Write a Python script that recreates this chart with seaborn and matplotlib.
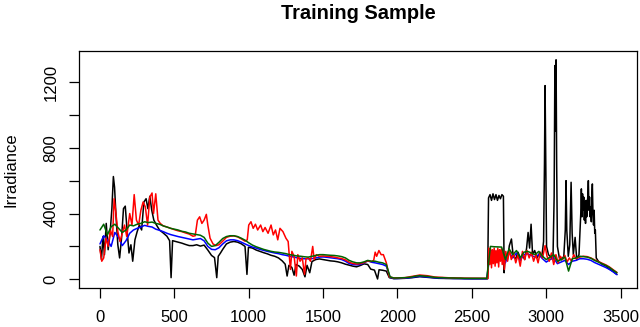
import numpy as np
import pandas as pd
import matplotlib
matplotlib.use("Agg")
import matplotlib.pyplot as plt
import seaborn as sns


# ===============================
# data
# ===============================

# black: measured irradiance
black_x = [0, 10, 20, 30, 42, 55, 68, 80, 90, 98, 108, 120, 132, 145, 158, 170, 182, 195, 208, 220,
           235, 250, 265, 280, 295, 310, 322, 335, 348, 362, 380, 400, 425, 450, 468, 478, 488, 500, 525, 550,
           575, 600, 625, 650, 675, 700, 725, 750, 770, 785, 795, 810, 825, 850, 875, 900, 925, 950, 975, 988,
           998, 1025, 1050, 1075, 1100, 1125, 1150, 1175, 1200, 1225, 1245, 1258, 1270, 1290, 1305, 1318, 1340, 1360, 1378, 1392,
           1410, 1425, 1450, 1475, 1500, 1525, 1550, 1575, 1600, 1625, 1650, 1675, 1700, 1725, 1750, 1775, 1800, 1820, 1845, 1866,
           1876, 1900, 1925, 1945, 1975, 2050, 2100, 2150, 2200, 2275, 2400, 2500, 2606, 2612, 2622, 2632, 2642, 2652, 2662, 2672,
           2682, 2692, 2702, 2712, 2717, 2724, 2738, 2752, 2766, 2778, 2795, 2810, 2825, 2840, 2855, 2868, 2878, 2888, 2898, 2908,
           2922, 2938, 2955, 2970, 2982, 2988, 2992, 2997, 3002, 3015, 3030, 3045, 3053, 3058, 3062, 3066, 3070, 3075, 3088, 3102,
           3118, 3128, 3133, 3138, 3148, 3158, 3167, 3174, 3182, 3194, 3205, 3220,
           3232, 3236, 3240, 3244, 3248, 3252, 3256, 3260, 3264, 3268, 3272, 3276, 3280, 3283, 3287, 3291,
           3295, 3299, 3303, 3307, 3310, 3314, 3318, 3322, 3326, 3330, 3336, 3350, 3375, 3400, 3425, 3450, 3475]
black_y = [200, 120, 260, 150, 340, 180, 280, 430, 625, 560, 380, 210, 130, 250, 430, 445, 300, 160, 210, 110,
           240, 290, 330, 300, 470, 490, 430, 505, 420, 360, 330, 300, 282, 262, 235, 10, 235, 232, 226, 220,
           212, 205, 205, 210, 202, 208, 178, 145, 132, 10, 140, 160, 182, 215, 226, 230, 226, 216, 200, 30,
           195, 190, 178, 170, 162, 155, 146, 140, 130, 112, 92, 20, 85, 72, 25, 90, 80, 60, 15, 85,
           40, 108, 120, 124, 120, 116, 112, 110, 106, 100, 92, 86, 80, 76, 84, 94, 90, 62, 56, 2,
           58, 55, 50, 10, 4, 6, 10, 16, 12, 6, 4, 3, 3, 495, 515, 480, 520, 485, 515, 480,
           510, 490, 515, 505, 40, 150, 115, 205, 245, 140, 125, 165, 130, 150, 120, 190, 285, 190, 335, 150,
           175, 130, 160, 135, 230, 700, 1178, 650, 200, 150, 135, 120, 500, 1300, 900, 1335, 700, 200, 130, 118,
           140, 300, 600, 300, 140, 210, 590, 280, 150, 255, 120, 150,
           400, 550, 380, 520, 420, 500, 360, 470, 340, 480, 380, 450, 520, 600, 420, 500,
           380, 440, 350, 520, 580, 400, 330, 420, 280, 300, 130, 110, 92, 82, 62, 48, 30]

# red: model 1
red_x = [0, 12, 25, 40, 55, 70, 85, 95, 105, 120, 135, 150, 165, 180, 200, 215, 230, 245, 260, 275,
         290, 305, 320, 335, 350, 360, 375, 390, 405, 425, 450, 475, 500, 525, 550, 575, 600, 625, 640, 655,
         670, 685, 700, 715, 725, 740, 760, 780, 800, 825, 850, 875, 900, 925, 950, 975, 990, 1000, 1015, 1030,
         1045, 1060, 1080, 1095, 1110, 1130, 1150, 1165, 1180, 1195, 1210, 1230, 1250, 1265, 1280, 1290, 1305, 1320, 1330, 1345,
         1360, 1375, 1385, 1400, 1415, 1430, 1440, 1455, 1475, 1500, 1525, 1550, 1575, 1600, 1625, 1650, 1675, 1700, 1725, 1750,
         1775, 1800, 1825, 1840, 1850, 1860, 1875, 1890, 1905, 1925, 1945, 1975, 2050, 2100, 2150, 2200, 2250, 2350, 2450, 2608,
         2614, 2620, 2626, 2632, 2638, 2644, 2650, 2656, 2662, 2668, 2674, 2680, 2686, 2692, 2698, 2704, 2712, 2718, 2728, 2740,
         2752, 2765, 2780, 2795, 2810, 2825, 2840, 2855, 2870, 2885, 2900, 2915, 2930, 2945, 2960, 2975, 2992, 3005, 3020, 3035,
         3050, 3065, 3080, 3095, 3110, 3125, 3140, 3155, 3170, 3185, 3200, 3225, 3250, 3275, 3300, 3325, 3350, 3375, 3400, 3425,
         3450, 3475]
red_y = [180, 110, 130, 250, 200, 300, 260, 490, 420, 290, 230, 280, 330, 260, 400, 330, 515, 360, 330, 420,
         470, 440, 330, 500, 525, 400, 520, 360, 340, 325, 318, 310, 302, 295, 290, 282, 275, 262, 265, 360,
         380, 340, 360, 395, 330, 250, 215, 205, 210, 232, 255, 262, 264, 258, 246, 232, 240, 330, 350, 310,
         335, 300, 330, 290, 315, 280, 330, 270, 300, 240, 310, 290, 250, 230, 60, 170, 140, 20, 150, 110,
         130, 30, 125, 130, 110, 200, 120, 150, 140, 142, 140, 138, 135, 130, 126, 118, 104, 96, 93, 95,
         102, 112, 108, 115, 165, 140, 175, 150, 150, 100, 15, 8, 10, 18, 26, 22, 14, 9, 7, 6,
         190, 90, 185, 70, 180, 95, 190, 80, 175, 100, 190, 75, 180, 110, 185, 90, 170, 60, 170, 110,
         180, 120, 160, 100, 150, 80, 170, 120, 175, 130, 165, 110, 150, 100, 165, 130, 205, 140, 110, 160,
         90, 150, 100, 140, 120, 145, 105, 130, 110, 150, 125, 135, 140, 138, 130, 118, 108, 98, 88, 75,
         58, 42]

# blue and green share a grid of every 25 samples
grid_x = list(range(0, 3476, 25))

blue_y = [215, 265, 240, 200, 285, 255, 205, 235, 280, 300, 310, 318, 328, 322, 318, 305, 298, 290, 280, 272,
          266, 260, 255, 250, 245, 240, 244, 248, 234, 200, 182, 180, 192, 215, 234, 240, 240, 235, 226, 215,
          205, 196, 190, 182, 176, 170, 165, 160, 156, 150, 146, 140, 136, 131, 127, 125, 125, 126, 130, 135,
          136, 134, 131, 128, 125, 120, 110, 96, 90, 88, 90, 100, 112, 104, 100, 95, 90, 80, 12, 5,
          5, 6, 7, 9, 12, 16, 18, 16, 14, 12, 9, 8, 7, 6, 6, 5, 5, 5, 4, 4,
          4, 4, 4, 4, 4, 175, 170, 165, 170, 100, 165, 130, 160, 115, 150, 155, 145, 135, 150, 125,
          105, 120, 130, 95, 105, 115, 90, 110, 115, 125, 125, 122, 115, 102, 92, 82, 72, 60, 45, 28]

green_y = [300, 335, 270, 320, 335, 310, 285, 300, 330, 325, 335, 340, 350, 345, 348, 340, 335, 325, 318, 310,
           305, 300, 292, 288, 280, 276, 272, 268, 255, 220, 200, 205, 225, 248, 260, 265, 265, 260, 250, 238,
           222, 208, 198, 190, 182, 176, 170, 166, 164, 160, 156, 150, 146, 142, 140, 137, 135, 140, 145, 150,
           150, 148, 146, 145, 142, 138, 130, 115, 106, 100, 100, 106, 115, 110, 110, 104, 100, 90, 15, 8,
           8, 9, 10, 12, 15, 20, 22, 20, 18, 15, 12, 10, 10, 9, 8, 8, 7, 7, 6, 6,
           6, 6, 6, 6, 6, 200, 198, 197, 196, 120, 185, 150, 175, 130, 165, 170, 160, 150, 170, 140,
           120, 135, 150, 110, 120, 135, 50, 125, 130, 140, 138, 135, 128, 115, 105, 95, 85, 72, 55, 40]

series = [
    ("black", black_x, black_y),
    ("#0000FF", grid_x, blue_y),
    ("#FF0000", red_x, red_y),
    ("#006400", grid_x, green_y),
]


# ===============================
# plot
# ===============================

sns.set_style("white")
plt.rcParams["font.family"] = ["Liberation Sans", "DejaVu Sans"]
plt.rcParams["text.color"] = "black"
plt.rcParams["axes.labelcolor"] = "black"

fig = plt.figure(figsize=(6.4, 3.27), dpi=100)
ax = fig.add_axes([79.3 / 640, 38.7 / 327, 557.4 / 640, 237.3 / 327])

for col, xs, ys in series:
    df = pd.DataFrame({"x": xs, "y": ys})
    sns.lineplot(data=df, x="x", y="y", color=col, linewidth=1.1,
                 estimator=None, sort=False, ax=ax)

ax.set_xlim(-139, 3608)
ax.set_ylim(-54.7, 1388.5)
ax.set_xticks(range(0, 3501, 500))
ax.set_yticks(range(0, 1201, 200))
ax.set_yticklabels(["0", "", "400", "", "800", "", "1200"])
for lab in ax.get_yticklabels():
    lab.set_rotation(90)
    lab.set_va("center")

ax.tick_params(bottom=True, left=True, direction="out", length=7.2, width=0.9,
               color="black", labelsize=12, labelcolor="black")
ax.tick_params(axis="x", pad=8.6)
ax.tick_params(axis="y", pad=7.6)

for sp in ax.spines.values():
    sp.set_visible(True)
    sp.set_color("black")
    sp.set_linewidth(0.9)

ax.set_xlabel("")
ax.set_ylabel("Irradiance", fontsize=12, color="black")
ax.yaxis.set_label_coords(-0.109, 0.5)
ax.set_title("Training Sample", fontsize=14.4, fontweight="bold", color="black", pad=23)

fig.savefig("out.png", dpi=100)
